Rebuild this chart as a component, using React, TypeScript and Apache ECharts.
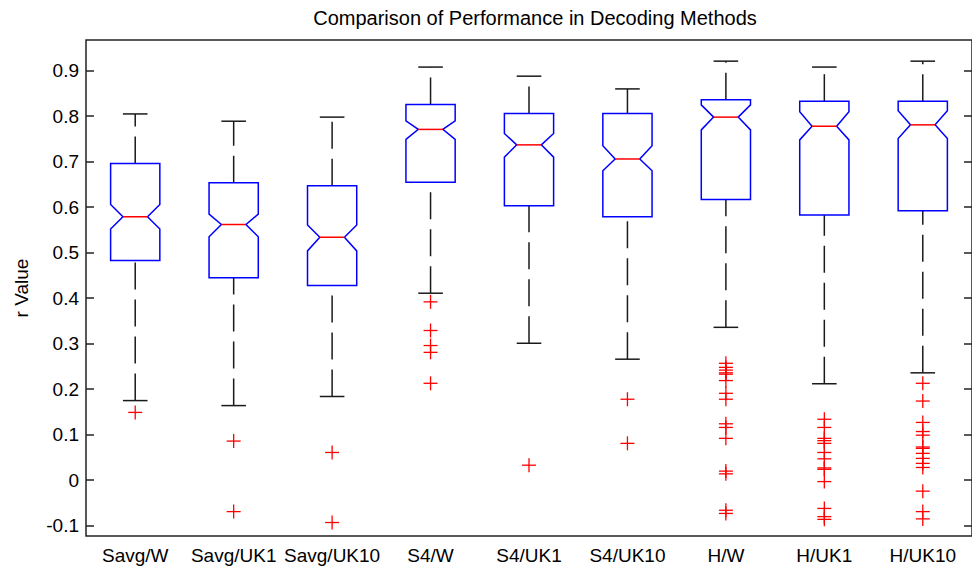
import React, { useEffect, useRef } from 'react';
import * as echarts from 'echarts';

const categories = ['Savg/W', 'Savg/UK1', 'Savg/UK10', 'S4/W', 'S4/UK1', 'S4/UK10', 'H/W', 'H/UK1', 'H/UK10'];
const whiskerLow = [0.175, 0.164, 0.184, 0.411, 0.301, 0.266, 0.336, 0.212, 0.236];
const q1 = [0.483, 0.445, 0.428, 0.655, 0.603, 0.579, 0.617, 0.583, 0.592];
const notchLow = [0.552, 0.535, 0.504, 0.749, 0.71, 0.68, 0.77, 0.748, 0.751];
const median = [0.579, 0.562, 0.534, 0.771, 0.737, 0.706, 0.798, 0.778, 0.781];
const notchHigh = [0.606, 0.585, 0.561, 0.79, 0.762, 0.735, 0.825, 0.81, 0.812];
const q3 = [0.696, 0.654, 0.647, 0.826, 0.806, 0.806, 0.836, 0.833, 0.833];
const whiskerHigh = [0.805, 0.789, 0.798, 0.908, 0.888, 0.86, 0.921, 0.908, 0.921];

const outliersSavgW = [0.149];
const outliersSavgUK1 = [0.086, -0.069];
const outliersSavgUK10 = [0.061, -0.093];
const outliersS4W = [0.392, 0.329, 0.296, 0.281, 0.213];
const outliersS4UK1 = [0.033];
const outliersS4UK10 = [0.178, 0.081];
const outliersHW = [0.257, 0.248, 0.242, 0.236, 0.233, 0.219, 0.191, 0.178, 0.124, 0.116, 0.092, 0.02, 0.014, -0.066, -0.073];
const outliersHUK1 = [0.134, 0.116, 0.092, 0.087, 0.081, 0.061, 0.047, 0.027, 0.024, -0.003, -0.062, -0.08, -0.086];
const outliersHUK10 = [0.213, 0.174, 0.127, 0.107, 0.099, 0.073, 0.07, 0.059, 0.048, 0.037, 0.028, -0.024, -0.069, -0.085];
const outliers = [outliersSavgW, outliersSavgUK1, outliersSavgUK10, outliersS4W, outliersS4UK1, outliersS4UK10, outliersHW, outliersHUK1, outliersHUK10];

const yTicks = [-0.1, 0, 0.1, 0.2, 0.3, 0.4, 0.5, 0.6, 0.7, 0.8, 0.9];
const yTickLabels = ['-0.1', '0', '0.1', '0.2', '0.3', '0.4', '0.5', '0.6', '0.7', '0.8', '0.9'];
const yMin = -0.1226;
const yMax = 0.9675;

const FONT = '"Liberation Sans", Arial, sans-serif';

export default function App() {
  const ref = useRef<HTMLDivElement>(null);
  useEffect(() => {
    const chart = echarts.init(ref.current as HTMLDivElement, null, { renderer: 'svg' });
    const boxData = categories.map((_, i) => [i, whiskerLow[i], q1[i], notchLow[i], median[i], notchHigh[i], q3[i], whiskerHigh[i]]);
    const outlierData: number[][] = [];
    outliers.forEach((arr, i) => arr.forEach((v) => outlierData.push([i, v])));
    const fmt = (v: number) => {
      const idx = yTicks.findIndex((t) => Math.abs(t - v) < 1e-6);
      return idx >= 0 ? yTickLabels[idx] : '';
    };
    const yAxisCommon = {
      type: 'value',
      min: yMin,
      max: yMax,
      splitLine: { show: false },
      axisLine: { show: false },
      axisTick: { show: true, inside: true, length: 8, customValues: yTicks, lineStyle: { color: '#222', width: 1.5 } },
    };
    chart.setOption({
      animation: false,
      backgroundColor: '#fff',
      title: {
        text: 'Comparison of Performance in Decoding Methods',
        left: 530,
        textAlign: 'center',
        top: 3,
        textStyle: { fontSize: 20, fontWeight: 'normal', color: '#000', fontFamily: FONT },
      },
      grid: { left: 86, right: -5, top: 40, bottom: 41, show: true, borderColor: '#222', borderWidth: 1.5, backgroundColor: 'transparent' },
      xAxis: {
        type: 'category',
        data: categories,
        boundaryGap: true,
        axisLine: { show: false },
        axisTick: { show: false },
        splitLine: { show: false },
        axisLabel: { interval: 0, fontSize: 19, color: '#000', margin: 10, fontFamily: FONT },
      },
      yAxis: [
        {
          ...yAxisCommon,
          position: 'left',
          axisLabel: { customValues: yTicks, formatter: fmt, fontSize: 19, color: '#000', margin: 7, fontFamily: FONT },
          name: 'r Value',
          nameLocation: 'middle',
          nameGap: 55,
          nameTextStyle: { fontSize: 19, color: '#000', fontFamily: FONT },
        },
        {
          ...yAxisCommon,
          position: 'right',
          axisLabel: { show: false },
        },
      ],
      series: [
        {
          type: 'custom',
          name: 'boxes',
          data: boxData,
          encode: { x: 0, y: [1, 2, 3, 4, 5, 6, 7] },
          renderItem: (params: any, api: any) => {
            const i = api.value(0);
            const bw = api.size([1, 0])[0];
            const hw = bw * 0.25;
            const cx = api.coord([i, 0])[0];
            const Y = (k: number) => api.coord([i, api.value(k)])[1];
            const yWL = Y(1), yQ1 = Y(2), yNL = Y(3), yMed = Y(4), yNH = Y(5), yQ3 = Y(6), yWH = Y(7);
            const wStyle = { stroke: '#1a1a1a', lineWidth: 1.5, lineDash: [27, 10] };
            const cStyle = { stroke: '#1a1a1a', lineWidth: 1.5 };
            return {
              type: 'group',
              children: [
                { type: 'line', shape: { x1: cx, y1: yWL, x2: cx, y2: yQ1 }, style: wStyle },
                { type: 'line', shape: { x1: cx, y1: yQ3, x2: cx, y2: yWH }, style: wStyle },
                { type: 'line', shape: { x1: cx - hw / 2, y1: yWL, x2: cx + hw / 2, y2: yWL }, style: cStyle },
                { type: 'line', shape: { x1: cx - hw / 2, y1: yWH, x2: cx + hw / 2, y2: yWH }, style: cStyle },
                {
                  type: 'polygon',
                  shape: {
                    points: [
                      [cx - hw, yQ1], [cx - hw, yNL], [cx - hw / 2, yMed], [cx - hw, yNH], [cx - hw, yQ3],
                      [cx + hw, yQ3], [cx + hw, yNH], [cx + hw / 2, yMed], [cx + hw, yNL], [cx + hw, yQ1],
                    ],
                  },
                  style: { fill: '#fff', stroke: '#0000ff', lineWidth: 1.5 },
                },
                { type: 'line', shape: { x1: cx - hw / 2, y1: yMed, x2: cx + hw / 2, y2: yMed }, style: { stroke: '#ff0000', lineWidth: 1.5 } },
              ],
            };
          },
        },
        {
          type: 'custom',
          name: 'outliers',
          data: outlierData,
          encode: { x: 0, y: 1 },
          renderItem: (params: any, api: any) => {
            const p = api.coord([api.value(0), api.value(1)]);
            const s = 7;
            const st = { stroke: '#ff0000', lineWidth: 1.3 };
            return {
              type: 'group',
              children: [
                { type: 'line', shape: { x1: p[0] - s, y1: p[1], x2: p[0] + s, y2: p[1] }, style: st },
                { type: 'line', shape: { x1: p[0], y1: p[1] - s, x2: p[0], y2: p[1] + s }, style: st },
              ],
            };
          },
        },
      ],
    });
    return () => chart.dispose();
  }, []);
  return <div ref={ref} style={{ position: 'absolute', left: 0, top: 0, width: 972, height: 577 }} />;
}
